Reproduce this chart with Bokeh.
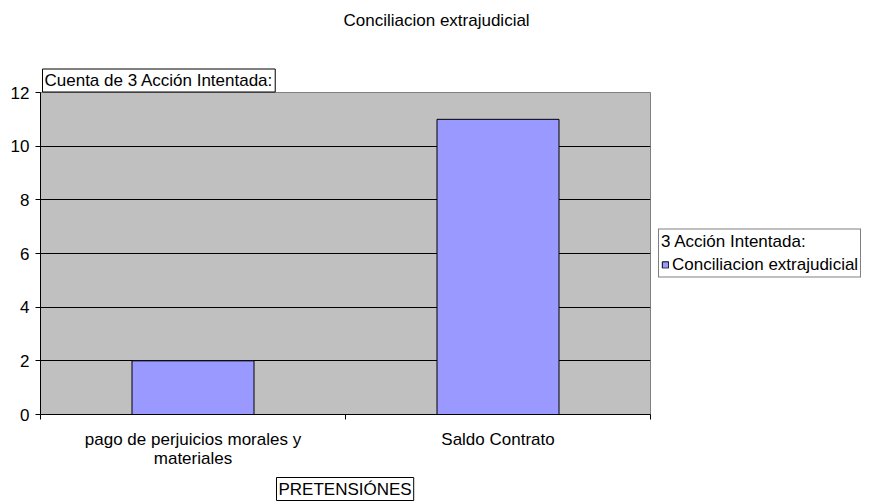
from bokeh.plotting import figure
from bokeh.models import Range1d, FixedTicker, Legend, LegendItem, ColumnDataSource, Title
from bokeh.embed import file_html
from bokeh.resources import INLINE

# ---- data ----
title_text = "Conciliacion extrajudicial"
categories = ["pago de perjuicios morales y\nmateriales", "Saldo Contrato"]
counts = [2, 11]
y_ticks = [0, 2, 4, 6, 8, 10, 12]
series_name = "Conciliacion extrajudicial"
legend_title = "3 Acción Intentada:"
value_title = "Cuenta de 3 Acción Intentada:"
axis_title = "PRETENSIÓNES"

FONT = "Liberation Sans"
FS = "17px"

n = len(categories)
x_pos = [i + 0.5 for i in range(n)]
src = ColumnDataSource(dict(x=x_pos, top=counts))

p = figure(frame_width=610, frame_height=322,
           min_border_left=40, min_border_right=219, min_border_top=92, min_border_bottom=90,
           x_range=Range1d(0, n), y_range=Range1d(y_ticks[0], y_ticks[-1]),
           output_backend="svg", toolbar_location=None, tools="")
p.background_fill_color = "#C0C0C0"
p.border_fill_color = "white"
p.outline_line_color = "#808080"
p.outline_line_width = 1

r = p.vbar(x="x", top="top", width=0.4, source=src,
           fill_color="#9999FF", line_color="black", line_width=1)

# x axis: labels at category centres, ticks at category boundaries
xa = p.xaxis[0]
xa.ticker = FixedTicker(ticks=x_pos, minor_ticks=list(range(n + 1)))
xa.major_label_overrides = {x: c for x, c in zip(x_pos, categories)}
xa.major_tick_in = 0
xa.major_tick_out = 0
xa.minor_tick_in = 0
xa.minor_tick_out = 5
xa.minor_tick_line_color = "black"
xa.axis_line_color = "black"
xa.major_label_standoff = 10
xa.major_label_text_font = FONT
xa.major_label_text_font_size = FS
xa.major_label_text_color = "black"
xa.major_label_text_line_height = 1.05

ya = p.yaxis[0]
ya.ticker = FixedTicker(ticks=y_ticks)
ya.major_tick_in = 0
ya.major_tick_out = 5
ya.minor_tick_line_color = None
ya.major_tick_line_color = "black"
ya.axis_line_color = "black"
ya.major_label_standoff = 6
ya.major_label_text_font = FONT
ya.major_label_text_font_size = FS
ya.major_label_text_color = "black"

p.xgrid.grid_line_color = None
p.ygrid.grid_line_color = "black"
p.ygrid.grid_line_width = 1

# main title (trailing empty line reserves room so the title sits near the top)
p.title.text = title_text + "\n"
p.title.align = "left"
p.title.offset = 303
p.title.standoff = 17
p.title.vertical_align = "top"
p.title.text_font = FONT
p.title.text_font_size = FS
p.title.text_font_style = "normal"
p.title.text_color = "black"
p.title.text_line_height = 1.35

# boxed value-axis title just above the plot area
p.add_layout(Title(text=value_title, align="left", offset=2, standoff=1,
                   vertical_align="bottom",
                   text_font=FONT, text_font_size=FS, text_font_style="normal",
                   text_color="black", border_line_color="black", border_line_width=1,
                   background_fill_color="white", padding=2), "above")

# legend with header, right of the plot area, vertically centred
legend = Legend(items=[LegendItem(label=series_name, renderers=[r])],
                location="left", orientation="vertical",
                title=legend_title, title_text_font=FONT, title_text_font_size=FS,
                title_text_font_style="normal", title_text_color="black", title_standoff=3,
                border_line_color="black", border_line_width=1,
                background_fill_color="white", background_fill_alpha=1,
                padding=2, margin=8, spacing=0,
                glyph_width=8, glyph_height=8, label_standoff=3,
                label_height=17,
                label_text_font=FONT, label_text_font_size=FS, label_text_color="black")
p.add_layout(legend, "right")

# boxed category-axis title
p.add_layout(Title(text=axis_title, align="left", offset=236, standoff=8,
                   vertical_align="bottom",
                   text_font=FONT, text_font_size=FS, text_font_style="normal",
                   text_color="black", border_line_color="black", border_line_width=1,
                   background_fill_color="white", padding=2), "below")

open("out.html", "w").write(file_html(p, INLINE))
